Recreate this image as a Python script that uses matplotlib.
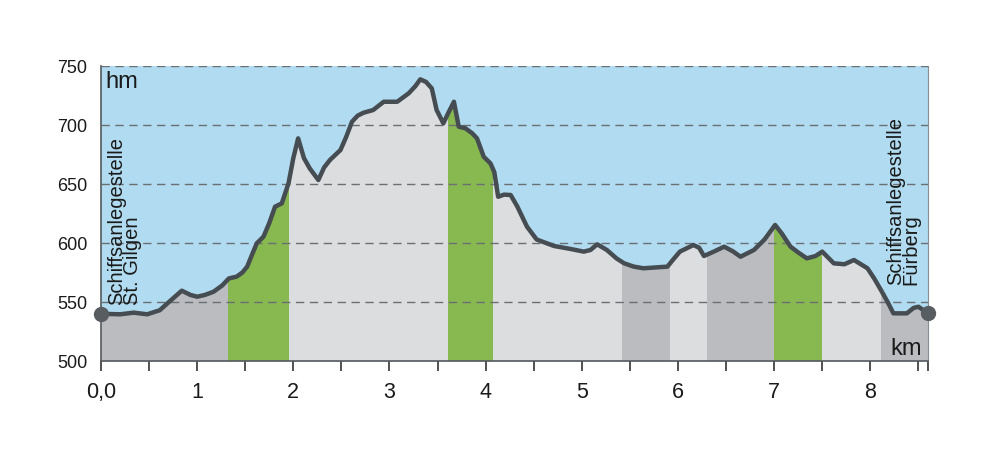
import numpy as np
import matplotlib
matplotlib.use("Agg")
import matplotlib.pyplot as plt

# Höhenprofil (km, hm)
km = [0.0, 0.2, 0.34, 0.48, 0.61, 0.72, 0.84, 0.93, 1.0, 1.08, 1.17, 1.26, 1.33, 1.41, 1.47, 1.52,
      1.57, 1.62, 1.69, 1.75, 1.81, 1.88, 1.95, 2.0, 2.05, 2.11, 2.17, 2.26, 2.32, 2.38, 2.49,
      2.55, 2.61, 2.67, 2.73, 2.83, 2.94, 3.08, 3.20, 3.27, 3.32, 3.38, 3.44, 3.49, 3.56,
      3.61, 3.67, 3.72, 3.79, 3.86, 3.91, 3.98, 4.05, 4.09, 4.13, 4.19, 4.26, 4.33, 4.43,
      4.53, 4.71, 4.88, 5.02, 5.09, 5.16, 5.26, 5.36, 5.44, 5.54, 5.64, 5.89, 5.95, 6.02,
      6.16, 6.22, 6.27, 6.38, 6.48, 6.57, 6.65, 6.79, 6.90, 7.01, 7.08, 7.17, 7.25, 7.34,
      7.43, 7.50, 7.62, 7.73, 7.83, 7.97, 8.04, 8.11, 8.18, 8.24, 8.38, 8.45, 8.50, 8.6]
hm = [540, 539.6, 541, 539.6, 543, 551, 559.6, 556, 554.5, 556, 558.7, 564, 570, 571.5, 575, 580,
      590, 599.8, 605.4, 617, 630.8, 633.6, 650.6, 672, 688.7, 672, 663.3, 653.4, 664, 670.3, 678.8,
      690, 702.8, 708, 710.4, 712.7, 719.7, 719.7, 726.9, 733, 738.7, 736.5, 731, 712.7, 701.4,
      710, 719.7, 698.6, 697.2, 693, 688.7, 673.1, 667.5, 660, 639.2, 641, 640.7, 630.8, 613.8,
      603, 597.5, 595, 592.7, 594.1, 598.9, 594.1, 587, 582.8, 580, 578.6, 580, 586, 592.7,
      598.3, 596, 589, 593, 596.9, 593, 588.4, 594.1, 603, 615.3, 608, 596.9, 592, 587,
      589, 592.7, 582.8, 582, 585.6, 578.6, 570, 560.2, 550, 540.4, 540.4, 545, 546, 540.4]

# Abschnitte (von, bis, Art)
band_start = [0.0, 1.32, 1.95, 3.61, 4.08, 5.42, 5.92, 6.30, 7.0, 7.5, 8.11]
band_end = [1.32, 1.95, 3.61, 4.08, 5.42, 5.92, 6.30, 7.0, 7.5, 8.11, 8.6]
band_kind = ["dunkel", "grün", "hell", "grün", "hell", "dunkel", "hell", "dunkel", "grün", "hell", "dunkel"]

yticks = [500, 550, 600, 650, 700, 750]
xticks_major = [0, 1, 2, 3, 4, 5, 6, 7, 8]
xtick_labels = ["0,0", "1", "2", "3", "4", "5", "6", "7", "8"]

farben = {"dunkel": "#bbbcc0", "hell": "#dcdddf", "grün": "#88b850"}
himmel = "#b0dbf0"
linie = "#454c52"
schrift = "#1a1a1a"

plt.rcParams['font.family'] = ['Liberation Sans', 'DejaVu Sans']

fig = plt.figure(figsize=(10.05, 4.54), dpi=100)
ax = fig.add_axes([0.1005, 0.2048, 0.8229, 0.6498])
ax.set_facecolor(himmel)
ax.set_xlim(0, 8.6)
ax.set_ylim(500, 750)

# Fläche unter der Kurve, dann Abschnitte darauf zuschneiden
flaeche = ax.fill_between(km, 500, hm, color=farben["hell"], lw=0, zorder=1)
clip = flaeche.get_paths()[0]
for a, b, k in zip(band_start, band_end, band_kind):
    sp = ax.axvspan(a, b, color=farben[k], lw=0, zorder=2)
    sp.set_clip_path(clip, ax.transData)

for y in yticks[1:]:
    ax.axhline(y, color="#6a6f73", lw=1, ls=(0, (6, 4)), zorder=3)

ax.plot(km, hm, color=linie, lw=3.2, solid_joinstyle="round", solid_capstyle="round", zorder=5)
ax.plot([km[0], km[-1]], [hm[0], hm[-1]], "o", color="#585d61", ms=10, zorder=6, clip_on=False)

# Achsen
ax.spines["top"].set_visible(False)
ax.spines["left"].set_color("#555a5e")
ax.spines["bottom"].set_color("#555a5e")
ax.spines["right"].set_color("#8a8f93")
ax.spines["left"].set_linewidth(1.2)
ax.spines["bottom"].set_linewidth(1.2)

ax.set_yticks(yticks)
ax.set_yticklabels([str(v) for v in yticks], fontsize=13, color=schrift)
ax.tick_params(axis="y", length=0, pad=10)
ax.set_xticks(list(np.arange(0, 8.6, 0.5)) + [8.6])
ax.set_xticklabels([])
ax.tick_params(axis="x", direction="out", length=7, width=1.2, color="#333333")
for x, lab in zip(xticks_major, xtick_labels):
    ax.text(x, 473.5, lab, ha="center", va="center", fontsize=15.5, color=schrift, clip_on=False)

ax.text(0.05, 745.5, "hm", fontsize=17, va="top", ha="left", color=schrift)
ax.text(8.54, 505, "km", fontsize=17, va="baseline", ha="right", color=schrift)

ax.text(0.06, 547.5, "Schiffsanlegestelle\nSt. Gilgen", rotation=90, fontsize=14.5,
        ha="left", va="bottom", linespacing=0.8, color=schrift)
ax.text(8.16, 564, "Schiffsanlegestelle\nFürberg", rotation=90, fontsize=14.5,
        ha="left", va="bottom", linespacing=0.8, color=schrift)

fig.savefig("out.png", dpi=100)
